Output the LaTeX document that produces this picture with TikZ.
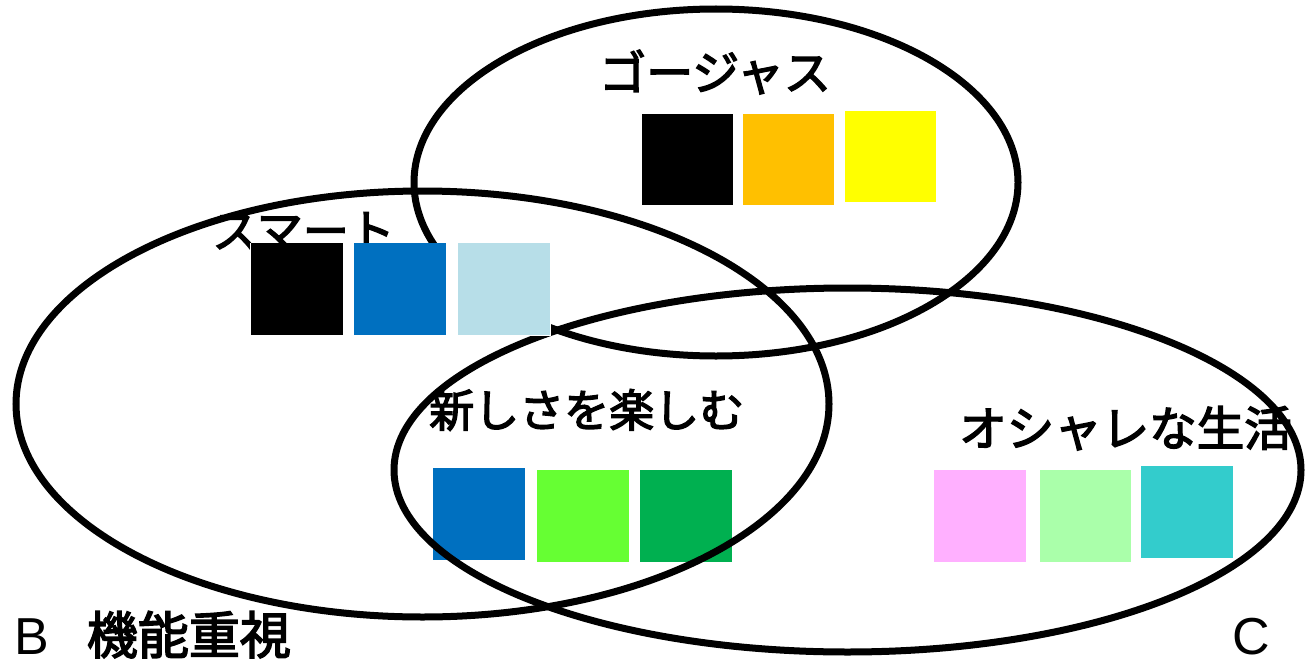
\documentclass[tikz,border=0pt]{standalone}
\usepackage{fontspec}
\newfontfamily\jp[FakeBold=3]{Noto Sans CJK JP}
\newfontfamily\arialf{Liberation Sans}
\definecolor{cOrange}{HTML}{FFC000}
\definecolor{cYellow}{HTML}{FFFF00}
\definecolor{cBlue}{HTML}{0070C0}
\definecolor{cLightBlue}{HTML}{B7DEE8}
\definecolor{cGreen}{HTML}{66FF33}
\definecolor{cDarkGreen}{HTML}{00B050}
\definecolor{cPink}{HTML}{FFB0FF}
\definecolor{cPaleGreen}{HTML}{AAFFAA}
\definecolor{cTeal}{HTML}{33CCCC}
\tikzset{
  sq/.style={anchor=north west, inner sep=0pt, outer sep=0pt, minimum width=92pt, minimum height=92pt, draw=none},
  ring/.style={line width=7pt, draw=black},
  jlabel/.style={anchor=base west, inner sep=0pt, font=\jp},
}
\begin{document}
\begin{tikzpicture}[x=1pt,y=-1pt]
\useasboundingbox (0,0) rectangle (1306,661);
% squares under the lines
\node[sq, fill=cBlue] (n1) at (433,468) {};
\node[sq, fill=cGreen] (n2) at (537,470) {};
\node[sq, fill=cDarkGreen] (n3) at (640,470) {};
% ellipses
\draw[ring] (716,182.5) ellipse [x radius=302, y radius=173.5];
\draw[ring] (422.5,404) ellipse [x radius=406.5, y radius=213];
\draw[ring] (847.5,470) ellipse [x radius=453.5, y radius=182];
% labels
\node[jlabel, font=\jp\fontsize{47}{47}\selectfont] (tg) at (599,90) {ゴージャス};
\node[jlabel, font=\jp\fontsize{46}{46}\selectfont] (ts) at (212,248) {スマート};
\node[jlabel, font=\jp\fontsize{45}{45}\selectfont] (tn) at (429,427) {新しさを楽しむ};
\node[jlabel, font=\jp\fontsize{47.5}{47.5}\selectfont] (to) at (959,446) {オシャレな生活};
\node[anchor=base west, inner sep=0pt] (tb) at (14,654) {{\arialf\fontsize{52}{52}\selectfont B}\hspace{38pt}{\jp\fontsize{51}{51}\selectfont 機能重視}};
\node[anchor=base west, inner sep=0pt, font=\arialf\fontsize{52}{52}\selectfont] (tc) at (1232,654) {C};
% smart group (white backing)
\node[sq, fill=white, minimum width=301pt, minimum height=93pt] (sbg) at (250,243) {};
\node[sq, fill=black] (s1) at (251,243) {};
\node[sq, fill=cBlue] (s2) at (354,243) {};
\node[sq, fill=cLightBlue] (s3) at (458,243) {};
% gorgeous
\node[sq, fill=black, minimum width=91pt, minimum height=91pt] (g1) at (642,114) {};
\node[sq, fill=cOrange, minimum width=91pt, minimum height=91pt] (g2) at (743,114) {};
\node[sq, fill=cYellow, minimum width=91pt, minimum height=91pt] (g3) at (845,111) {};
% oshare
\node[sq, fill=cPink] (o1) at (934,470) {};
\node[sq, fill=cPaleGreen, minimum width=91pt] (o2) at (1040,470) {};
\node[sq, fill=cTeal] (o3) at (1141,466) {};
\end{tikzpicture}
\end{document}
